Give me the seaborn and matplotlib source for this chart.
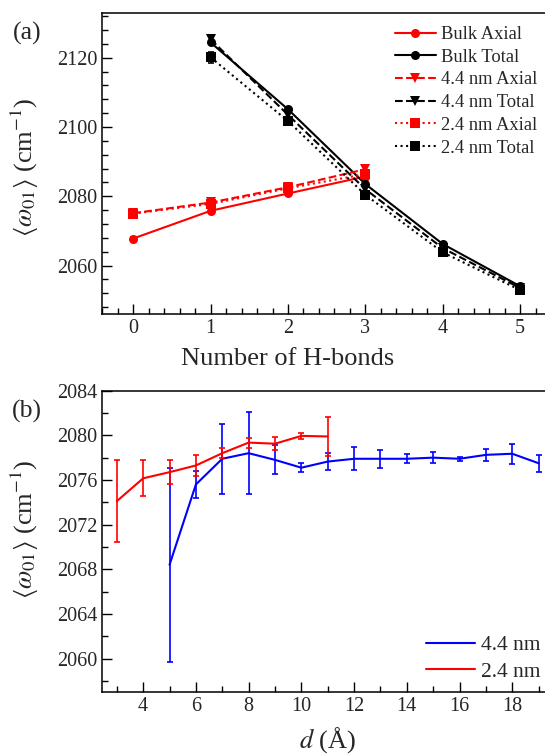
import matplotlib
matplotlib.use("Agg")
import matplotlib.pyplot as plt
from matplotlib.ticker import MultipleLocator
import seaborn as sns

# panel (a): frequency vs number of H-bonds
hb_axial = [0, 1, 2, 3]
hb_total = [1, 2, 3, 4, 5]
bulk_axial = [2067.8, 2075.8, 2080.8, 2085.7]
bulk_axial_err = [0.4, 0.4, 0.4, 0.4]
bulk_total = [2124.4, 2105.1, 2083.5, 2066.2, 2054.0]
bulk_total_err = [0.5, 0.5, 0.5, 0.5, 0.5]
nm44_axial = [2075.1, 2078.2, 2082.6, 2087.8]
nm44_axial_err = [0.5, 0.5, 0.5, 1.0]
nm44_total = [2125.3, 2103.5, 2082.0, 2065.0, 2053.5]
nm44_total_err = [0.8, 0.8, 0.6, 0.5, 0.5]
nm24_axial = [2075.0, 2077.8, 2082.3, 2086.4]
nm24_axial_err = [0.5, 0.5, 0.5, 1.2]
nm24_total = [2120.1, 2101.7, 2080.4, 2063.8, 2052.9]
nm24_total_err = [1.5, 0.8, 0.8, 0.5, 0.5]

# panel (b): frequency vs distance d
d_44 = [5, 6, 7, 8, 9, 10, 11, 12, 13, 14, 15, 16, 17, 18, 19]
w_44 = [2068.4, 2075.6, 2077.9, 2078.4, 2077.8, 2077.1, 2077.65, 2077.9,
        2077.9, 2077.9, 2078.0, 2077.9, 2078.25, 2078.35, 2077.5]
w_44_err = [8.7, 1.2, 3.15, 3.7, 1.3, 0.4, 0.8, 1.05, 0.8, 0.4, 0.5, 0.2,
            0.55, 0.9, 0.75]
d_24 = [3, 4, 5, 6, 7, 8, 9, 10, 11]
w_24 = [2074.1, 2076.15, 2076.7, 2077.3, 2078.4, 2079.35, 2079.25, 2079.95,
        2079.9]
w_24_err = [3.65, 1.6, 1.05, 0.9, 0.45, 0.45, 0.6, 0.3, 1.75]
d_ticks = [4, 6, 8, 10, 12, 14, 16, 18]

sns.set_style("ticks")
plt.rcParams["font.family"] = ["Liberation Serif", "DejaVu Serif"]
plt.rcParams["mathtext.fontset"] = "stix"

fig = plt.figure(figsize=(5.45, 7.55), dpi=100)
W, H = 545.0, 755.0
ax1 = fig.add_axes([102.3 / W, 1 - 314 / H, (566.6 - 102.3) / W, (314 - 12.7) / H])
ax2 = fig.add_axes([102.3 / W, 1 - 692 / H, (565 - 102.3) / W, (692 - 390.7) / H])

lw = 1.5
series_a = [
    (hb_axial, bulk_axial, bulk_axial_err, "red", "-", "o", "Bulk Axial"),
    (hb_total, bulk_total, bulk_total_err, "black", "-", "o", "Bulk Total"),
    (hb_axial, nm44_axial, nm44_axial_err, "red", "--", "v", "4.4 nm Axial"),
    (hb_total, nm44_total, nm44_total_err, "black", "--", "v", "4.4 nm Total"),
    (hb_axial, nm24_axial, nm24_axial_err, "red", ":", "s", "2.4 nm Axial"),
    (hb_total, nm24_total, nm24_total_err, "black", ":", "s", "2.4 nm Total"),
]
for x, y, e, c, ls, mk, lab in series_a:
    sns.lineplot(x=x, y=y, ax=ax1, color=c, linestyle=ls, marker=mk,
                 markersize=6.5, markeredgewidth=0, linewidth=lw, label=lab)
    ax1.errorbar(x, y, yerr=e, fmt="none", ecolor=c, elinewidth=1.2,
                 capsize=2.5, capthick=1.2)

ax1.set_xlim(-0.4, 5.6)
ax1.set_ylim(2046, 2133)
ax1.xaxis.set_major_locator(MultipleLocator(1))
ax1.xaxis.set_minor_locator(MultipleLocator(0.2))
ax1.yaxis.set_major_locator(MultipleLocator(20))
ax1.yaxis.set_minor_locator(MultipleLocator(4))
ax1.set_xlabel("Number of H-bonds", fontsize=19)
ax1.set_ylabel(r"$\langle\omega_{01}\rangle$ (cm$^{-1}$)", fontsize=19)
ax1.xaxis.set_label_coords(0.399, -0.113)
ax1.yaxis.set_label_coords(-0.132, 0.486)
ax1.legend(loc="upper left", bbox_to_anchor=(394.5 / W, 1 - 26 / H),
           bbox_transform=fig.transFigure, frameon=False, fontsize=13.3,
           handlelength=2.25, handletextpad=0.28, labelspacing=0.31,
           borderpad=0, borderaxespad=0)

sns.lineplot(x=d_44, y=w_44, ax=ax2, color="blue", linewidth=lw, label="4.4 nm")
ax2.errorbar(d_44, w_44, yerr=w_44_err, fmt="none", ecolor="blue",
             elinewidth=1.2, capsize=2.5, capthick=1.2)
sns.lineplot(x=d_24, y=w_24, ax=ax2, color="red", linewidth=lw, label="2.4 nm")
ax2.errorbar(d_24, w_24, yerr=w_24_err, fmt="none", ecolor="red",
             elinewidth=1.2, capsize=2.5, capthick=1.2)

ax2.set_xlim(2.45, 20)
ax2.set_ylim(2057, 2084)
ax2.set_xticks(d_ticks)
ax2.xaxis.set_minor_locator(MultipleLocator(1))
ax2.yaxis.set_major_locator(MultipleLocator(4))
ax2.yaxis.set_minor_locator(MultipleLocator(2))
ax2.set_xlabel(r"$d$ (Å)", fontsize=19)
ax2.set_ylabel(r"$\langle\omega_{01}\rangle$ (cm$^{-1}$)", fontsize=19)
ax2.xaxis.set_label_coords(0.486, -0.11)
ax2.yaxis.set_label_coords(-0.132, 0.541)
ax2.legend(loc="upper left", bbox_to_anchor=(425.8 / W, 1 - 635 / H),
           bbox_transform=fig.transFigure, frameon=False, fontsize=15.5,
           handlelength=2.3, handletextpad=0.25, labelspacing=0.32,
           borderpad=0, borderaxespad=0)

for ax in (ax1, ax2):
    ax.tick_params(which="both", direction="in", top=False, right=False,
                   labelsize=14.5, color="black", width=1)
    ax.tick_params(which="major", length=7)
    ax.tick_params(which="minor", length=4)
    for s in ax.spines.values():
        s.set_linewidth(1.1)
        s.set_color("black")

fig.text(13 / W, 1 - 33 / H, "(a)", fontsize=18.5, va="center", ha="left")
fig.text(12 / W, 1 - 411 / H, "(b)", fontsize=18.5, va="center", ha="left")

fig.savefig("out.png", dpi=100)
